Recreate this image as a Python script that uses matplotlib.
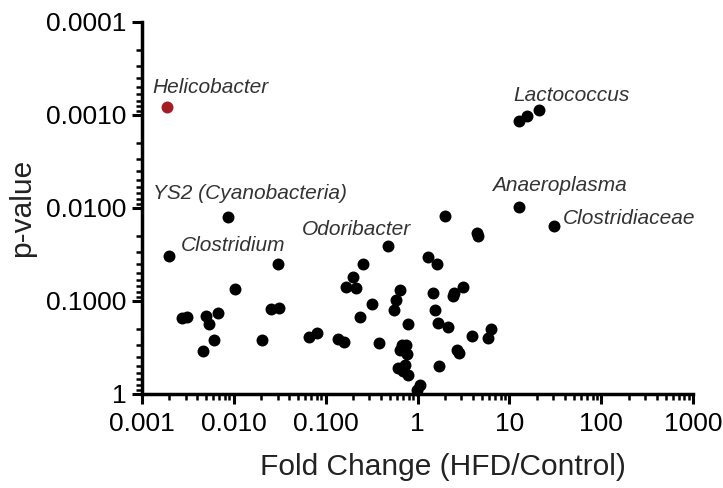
# -*- coding: utf-8 -*-
"""
Volcano-style plot: p-value vs fold change (HFD/Control)
"""
# =============================     Import modules     =================
import numpy as np
import matplotlib.pyplot as plt
from matplotlib.ticker import LogLocator, FixedLocator, FixedFormatter, NullFormatter

plt.rcParams['font.family'] = ['Liberation Sans', 'DejaVu Sans']

# =============================     Data     ===========================
# -- all genera (fold change, p-value)
fold_change = [
    0.0020, 0.0304, 0.01036, 0.00272, 0.00313, 0.00501, 0.0054, 0.00682,
    0.00607, 0.00465, 0.0253, 0.0312, 0.0204, 0.0661, 0.0815, 2.0, 4.42,
    4.6, 1.31, 1.62, 0.258, 0.199, 0.167, 0.215, 0.647, 0.58, 0.561,
    0.318, 0.236, 0.796, 1.49, 1.54, 1.66, 2.17, 2.42, 2.52, 3.16, 0.136,
    0.16, 0.385, 0.675, 0.746, 0.647, 0.776, 0.62, 0.692, 0.796, 0.733,
    1.07, 0.983, 1.73, 2.68, 2.79, 3.9, 5.82, 6.37, 0.00863, 0.475,
    12.8, 15.7, 21.2, 12.8, 30.6,
]
p_value = [
    0.0328, 0.0403, 0.0738, 0.153, 0.151, 0.144, 0.177, 0.134,
    0.265, 0.348, 0.122, 0.120, 0.265, 0.242, 0.222, 0.0121, 0.0187,
    0.0199, 0.0334, 0.0403, 0.0403, 0.0556, 0.0707, 0.0725, 0.0767, 0.099, 0.124,
    0.108, 0.148, 0.177, 0.0826, 0.124, 0.171, 0.189, 0.0877, 0.0814, 0.0707, 0.258,
    0.278, 0.283, 0.297, 0.297, 0.342, 0.371, 0.529, 0.575, 0.625, 0.488,
    0.80, 0.906, 0.508, 0.336, 0.365, 0.238, 0.254, 0.200, 0.0124, 0.0258,
    0.00115, 0.00102, 0.00089, 0.0097, 0.0156,
]
# -- highlighted genus
hl_fc = [0.00188]
hl_p = [0.00082]

# -- labelled genera: name, fold change, p-value, label offset (points)
lab_names = ['Helicobacter', 'Lactococcus', 'Anaeroplasma', 'Clostridiaceae',
             'YS2 (Cyanobacteria)', 'Clostridium', 'Odoribacter']
lab_fc = [0.00188, 12.8, 12.8, 30.6, 0.00863, 0.0020, 0.475]
lab_p = [0.00082, 0.00115, 0.0097, 0.0156, 0.0124, 0.0328, 0.0258]
lab_off = [(-10.8, 13.7), (-4.5, 18), (-19.4, 15), (6.5, 5),
           (-54, 16.5), (8.6, 7.2), (-62, 12)]

x_ticks = [0.001, 0.01, 0.1, 1, 10, 100, 1000]
x_labels = ['0.001', '0.010', '0.100', '1', '10', '100', '1000']
y_ticks = [0.0001, 0.001, 0.01, 0.1, 1]
y_labels = ['0.0001', '0.0010', '0.0100', '0.1000', '1']

# =============================    Main program   ======================
if __name__ == '__main__':
    fig = plt.figure(figsize=(7.23, 4.88), dpi=100)
    ax = fig.add_axes([0.196, 0.193, 0.763, 0.762])

    ax.plot(fold_change, p_value, 'o', color='black', markersize=8.6,
            markeredgewidth=0, clip_on=False, zorder=3)
    ax.plot(hl_fc, hl_p, 'o', color='#a51d24', markersize=8.6,
            markeredgewidth=0, clip_on=False, zorder=3)

    for name, fc, p, off in zip(lab_names, lab_fc, lab_p, lab_off):
        ax.annotate(name, xy=(fc, p), xytext=off, textcoords='offset points',
                    ha='left', va='center', fontsize=15, style='italic',
                    color='#333333')

    ax.set_xscale('log')
    ax.set_yscale('log')
    ax.set_xlim(0.001, 1000)
    ax.set_ylim(1, 0.0001)

    ax.xaxis.set_major_locator(FixedLocator(x_ticks))
    ax.xaxis.set_major_formatter(FixedFormatter(x_labels))
    ax.yaxis.set_major_locator(FixedLocator(y_ticks))
    ax.yaxis.set_major_formatter(FixedFormatter(y_labels))
    ax.xaxis.set_minor_locator(LogLocator(base=10, subs=np.arange(2, 10)))
    ax.yaxis.set_minor_locator(LogLocator(base=10, subs=np.arange(2, 10)))
    ax.xaxis.set_minor_formatter(NullFormatter())
    ax.yaxis.set_minor_formatter(NullFormatter())

    for s in ['top', 'right']:
        ax.spines[s].set_visible(False)
    for s in ['left', 'bottom']:
        ax.spines[s].set_linewidth(2.5)
        ax.spines[s].set_color('black')

    ax.tick_params(which='major', length=7.5, width=2.2, labelsize=19,
                   direction='out')
    ax.tick_params(axis='x', which='major', pad=5.5)
    ax.tick_params(axis='y', which='major', pad=3.5)
    ax.tick_params(which='minor', length=4.2, width=1.8, direction='out')

    ax.set_xlabel('Fold Change (HFD/Control)', fontsize=21.5, color='#222222')
    ax.xaxis.set_label_coords(0.546, -0.158)
    ax.set_ylabel('p-value', fontsize=21.5, labelpad=7, color='#222222')

    plt.savefig('out.png', dpi=100)
# =============================    End of program   =====================
